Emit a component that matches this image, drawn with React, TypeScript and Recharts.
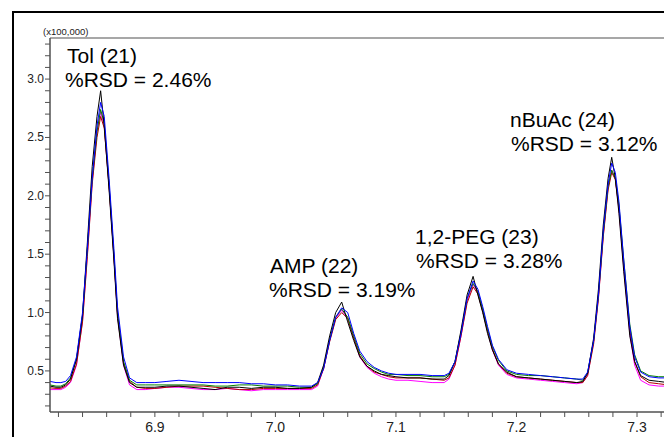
import React from "react";
import { LineChart, Line, XAxis, YAxis, ReferenceLine } from "recharts";

const times = [
  6.813, 6.818, 6.822, 6.826, 6.83, 6.835, 6.84, 6.844, 6.848, 6.852,
  6.855, 6.858, 6.862, 6.866, 6.869, 6.874, 6.879, 6.885, 6.892, 6.9,
  6.91, 6.92, 6.93, 6.94, 6.95, 6.96, 6.97, 6.98, 6.99, 7.0,
  7.01, 7.02, 7.03, 7.035, 7.04, 7.045, 7.05, 7.055, 7.06, 7.065,
  7.07, 7.076, 7.082, 7.088, 7.094, 7.1, 7.11, 7.12, 7.13, 7.14,
  7.144, 7.149, 7.154, 7.159, 7.164, 7.168, 7.172, 7.176, 7.18, 7.185,
  7.192, 7.2, 7.21, 7.22, 7.23, 7.24, 7.25, 7.255, 7.259, 7.264,
  7.268, 7.272, 7.276, 7.279, 7.282, 7.285, 7.289, 7.294, 7.298, 7.303,
  7.31, 7.318, 7.3257,
];

const black = [
  0.37, 0.36, 0.36, 0.38, 0.43, 0.6, 0.98, 1.6, 2.25, 2.68,
  2.9, 2.6, 2.05, 1.45, 0.95, 0.55, 0.4, 0.36, 0.36, 0.36,
  0.37, 0.37, 0.36, 0.35, 0.34, 0.36, 0.36, 0.35, 0.36, 0.36,
  0.35, 0.35, 0.36, 0.4, 0.55, 0.8, 1.0, 1.09, 0.92, 0.76,
  0.62, 0.54, 0.5, 0.47, 0.46, 0.45, 0.44, 0.44, 0.43, 0.43,
  0.46, 0.58, 0.85, 1.15, 1.31, 1.15, 1.0, 0.82, 0.68, 0.56,
  0.49, 0.45, 0.44, 0.43, 0.42, 0.41, 0.4, 0.41, 0.48, 0.78,
  1.2, 1.75, 2.15, 2.33, 2.15, 1.85, 1.35, 0.8, 0.58, 0.46,
  0.42, 0.41, 0.4,
];

const blue = [
  0.41, 0.4, 0.4, 0.41, 0.46, 0.62, 1.0, 1.55, 2.15, 2.6,
  2.8, 2.68, 2.15, 1.55, 1.05, 0.62, 0.44, 0.4, 0.4, 0.4,
  0.41, 0.42, 0.41, 0.4, 0.4, 0.4, 0.4, 0.39, 0.39, 0.38,
  0.38, 0.37, 0.37, 0.4, 0.52, 0.76, 0.96, 1.04, 1.0, 0.82,
  0.67, 0.58, 0.53, 0.5, 0.48, 0.47, 0.47, 0.47, 0.46, 0.46,
  0.48, 0.58, 0.82, 1.12, 1.27, 1.2, 1.05, 0.88, 0.72, 0.6,
  0.51, 0.48, 0.47, 0.46, 0.45, 0.44, 0.43, 0.43, 0.49, 0.76,
  1.15, 1.7, 2.1, 2.28, 2.2, 1.95, 1.45, 0.88, 0.62, 0.49,
  0.45, 0.44, 0.44,
];

const green = [
  0.38, 0.37, 0.37, 0.39, 0.44, 0.6, 0.97, 1.55, 2.15, 2.55,
  2.74, 2.62, 2.1, 1.5, 1.0, 0.58, 0.42, 0.38, 0.38, 0.38,
  0.38, 0.38, 0.38, 0.38, 0.37, 0.37, 0.38, 0.38, 0.37, 0.37,
  0.37, 0.36, 0.36, 0.39, 0.53, 0.77, 0.96, 1.03, 0.96, 0.8,
  0.65, 0.56, 0.52, 0.49, 0.47, 0.47, 0.46, 0.46, 0.45, 0.45,
  0.47, 0.58, 0.83, 1.12, 1.25, 1.18, 1.03, 0.86, 0.71, 0.59,
  0.5, 0.47, 0.46, 0.46, 0.45, 0.44, 0.43, 0.42, 0.48, 0.76,
  1.15, 1.68, 2.08, 2.22, 2.15, 1.92, 1.45, 0.9, 0.64, 0.5,
  0.46, 0.45, 0.45,
];

const red = [
  0.355, 0.35, 0.35, 0.37, 0.41, 0.56, 0.92, 1.48, 2.1, 2.5,
  2.68, 2.58, 2.08, 1.48, 0.98, 0.57, 0.41, 0.36, 0.35, 0.35,
  0.36, 0.37, 0.37, 0.37, 0.36, 0.35, 0.34, 0.34, 0.35, 0.35,
  0.35, 0.35, 0.35, 0.38, 0.52, 0.75, 0.94, 1.0, 0.95, 0.78,
  0.63, 0.54, 0.49, 0.47, 0.45, 0.44, 0.44, 0.44, 0.43, 0.42,
  0.44, 0.55, 0.8, 1.08, 1.22, 1.16, 1.01, 0.84, 0.69, 0.56,
  0.48, 0.45, 0.44, 0.43, 0.42, 0.41, 0.4, 0.4, 0.46, 0.73,
  1.12, 1.65, 2.05, 2.2, 2.14, 1.9, 1.4, 0.85, 0.58, 0.45,
  0.4, 0.39, 0.38,
];

const magenta = [
  0.34, 0.34, 0.34, 0.36, 0.4, 0.55, 0.93, 1.5, 2.12, 2.55,
  2.72, 2.6, 2.08, 1.48, 0.97, 0.55, 0.38, 0.34, 0.34, 0.35,
  0.36, 0.36, 0.35, 0.34, 0.34, 0.35, 0.34, 0.33, 0.34, 0.34,
  0.34, 0.34, 0.34, 0.37, 0.52, 0.76, 0.95, 1.02, 0.95, 0.78,
  0.62, 0.53, 0.48, 0.45, 0.43, 0.42, 0.42, 0.41, 0.4, 0.4,
  0.43, 0.55, 0.8, 1.1, 1.24, 1.17, 1.01, 0.84, 0.68, 0.55,
  0.47, 0.44, 0.43, 0.42, 0.41, 0.4, 0.39, 0.4, 0.46, 0.75,
  1.13, 1.66, 2.07, 2.22, 2.14, 1.88, 1.38, 0.82, 0.55, 0.42,
  0.38, 0.37, 0.37,
];

const xTicks = [
  6.82, 6.84, 6.86, 6.88, 6.9, 6.92, 6.94, 6.96, 6.98, 7.0, 7.02, 7.04, 7.06,
  7.08, 7.1, 7.12, 7.14, 7.16, 7.18, 7.2, 7.22, 7.24, 7.26, 7.28, 7.3, 7.32,
];
const xLabels = ["6.9", "7.0", "7.1", "7.2", "7.3"];

const yTicks = [
  0.2, 0.3, 0.4, 0.5, 0.6, 0.7, 0.8, 0.9, 1.0, 1.1, 1.2, 1.3, 1.4, 1.5, 1.6,
  1.7, 1.8, 1.9, 2.0, 2.1, 2.2, 2.3, 2.4, 2.5, 2.6, 2.7, 2.8, 2.9, 3.0, 3.1,
  3.2, 3.3,
];
const yLabels = ["0.5", "1.0", "1.5", "2.0", "2.5", "3.0"];

const peakNames = ["Tol (21)", "AMP (22)", "1,2-PEG (23)", "nBuAc (24)"];
const peakRsd = ["%RSD = 2.46%", "%RSD = 3.19%", "%RSD = 3.28%", "%RSD = 3.12%"];

const X_MIN = 6.813;
const X_MAX = 7.3257;
const Y_MIN = 0.148;
const Y_MAX = 3.352;

const data = times.map((t, i) => ({
  t,
  black: black[i],
  blue: blue[i],
  green: green[i],
  red: red[i],
  magenta: magenta[i],
}));

const FONT = "'Liberation Sans', Arial, sans-serif";

const XTick = (props: any) => {
  const { x, y, payload } = props;
  const lbl = payload.value.toFixed(1);
  const show = xLabels.includes(lbl) && Math.abs(payload.value * 10 - Math.round(payload.value * 10)) < 1e-6;
  if (!show) return null;
  return (
    <text x={x} y={y + 13} textAnchor="middle" fontFamily={FONT} fontSize={14} fill="#222">
      {lbl}
    </text>
  );
};

const YTick = (props: any) => {
  const { x, y, payload } = props;
  const lbl = payload.value.toFixed(1);
  const show = yLabels.includes(lbl) && Math.abs(payload.value * 2 - Math.round(payload.value * 2)) < 1e-6;
  if (!show) return null;
  return (
    <text x={x + 1} y={y + 4} textAnchor="end" fontFamily={FONT} fontSize={12} fill="#222">
      {lbl}
    </text>
  );
};

const annPos = [
  [67, 63, 65, 87],
  [270, 273, 269, 297],
  [415, 244, 416, 268],
  [510, 127, 511, 151],
];

export default function App() {
  return (
    <div style={{ position: "relative", width: 664, height: 429 }}>
      <div
        style={{
          position: "absolute",
          left: 4,
          top: 3,
          width: 700,
          height: 460,
          borderLeft: "2px solid #000",
          borderTop: "2px solid #000",
        }}
      />
      <div style={{ position: "absolute", left: 0, top: 0 }}>
        <LineChart
          width={664}
          height={429}
          data={data}
          margin={{ top: 30, right: 4, bottom: 0, left: 0 }}
        >
          <XAxis
            dataKey="t"
            type="number"
            domain={[X_MIN, X_MAX]}
            ticks={xTicks}
            tick={<XTick />}
            tickSize={5}
            interval={0}
            height={25}
            allowDataOverflow
            stroke="#505050"
            strokeWidth={1.5}
            tickLine={{ stroke: "#505050", strokeWidth: 1 }}
          />
          <YAxis
            type="number"
            domain={[Y_MIN, Y_MAX]}
            ticks={yTicks}
            tick={<YTick />}
            tickSize={5}
            interval={0}
            width={42}
            allowDataOverflow
            stroke="#505050"
            strokeWidth={1.5}
            tickLine={{ stroke: "#505050", strokeWidth: 1 }}
          />
          <ReferenceLine y={Y_MAX} stroke="#8a8a8a" strokeWidth={1.5} />
          <ReferenceLine x={X_MAX} stroke="#8a8a8a" strokeWidth={1.5} />
          <Line dataKey="magenta" stroke="#ff00ff" strokeWidth={1} dot={false} isAnimationActive={false} />
          <Line dataKey="red" stroke="#b00000" strokeWidth={1} dot={false} isAnimationActive={false} />
          <Line dataKey="green" stroke="#008000" strokeWidth={1} dot={false} isAnimationActive={false} />
          <Line dataKey="black" stroke="#000000" strokeWidth={1} dot={false} isAnimationActive={false} />
          <Line dataKey="blue" stroke="#0000ff" strokeWidth={1} dot={false} isAnimationActive={false} />
        </LineChart>
      </div>
      <svg
        width={664}
        height={429}
        style={{ position: "absolute", left: 0, top: 0, pointerEvents: "none" }}
      >
        <text x={35} y={27} fontFamily={FONT} fontSize={9.5} fill="#222">
          (x100,000)
        </text>
        {peakNames.map((n, i) => (
          <g key={n}>
            <text x={annPos[i][0] - 8} y={annPos[i][1] - 8} fontFamily={FONT} fontSize={21} fill="#000">
              {n}
            </text>
            <text x={annPos[i][2] - 8} y={annPos[i][3] - 8} fontFamily={FONT} fontSize={21} fill="#000">
              {peakRsd[i]}
            </text>
          </g>
        ))}
      </svg>
    </div>
  );
}
